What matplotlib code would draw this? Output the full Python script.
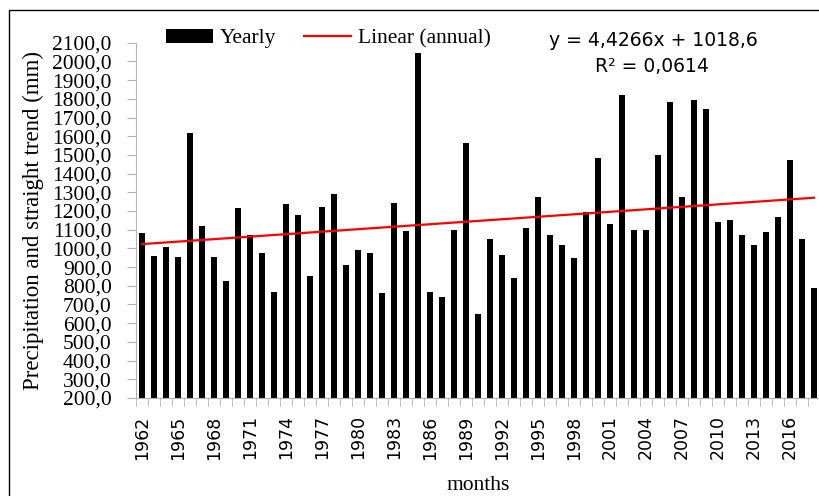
import matplotlib
matplotlib.use("Agg")
import matplotlib.pyplot as plt
import numpy as np
from matplotlib.patches import Patch, Rectangle
from matplotlib.lines import Line2D
from matplotlib.ticker import FixedLocator, FuncFormatter

# datos
years = list(range(1962, 2019))
yearly = [1080, 962, 1010, 955, 1617, 1120, 956, 823, 1215, 1072,
          978, 768, 1235, 1177, 855, 1220, 1290, 910, 992, 978,
          763, 1245, 1092, 2047, 768, 738, 1097, 1562, 650, 1048,
          966, 843, 1110, 1277, 1071, 1016, 948, 1192, 1482, 1133,
          1820, 1097, 1097, 1500, 1785, 1277, 1792, 1747, 1140, 1152,
          1072, 1016, 1090, 1170, 1475, 1048, 788]
slope = 4.4266
intercept = 1018.6
r2 = 0.0614
y_ticks = list(range(200, 2101, 100))

serif = ["Liberation Serif", "DejaVu Serif"]
gray = "#b4b4b4"

fig = plt.figure(figsize=(8.2, 4.96), dpi=100)
ax = fig.add_axes([0.1659, 0.1976, 0.834, 0.7163])

x = np.arange(len(years))
ax.bar(x, yearly, width=0.5, color="black")

# tendencia lineal (x = 1..n)
trend = slope * (x + 1) + intercept
ax.plot(x, trend, color="red", lw=1.6)

ax.set_xlim(-0.5, len(years) - 0.5)
ax.set_ylim(200, 2100)

ax.set_yticks(y_ticks)
ax.yaxis.set_major_formatter(FuncFormatter(lambda v, p: f"{v:.1f}".replace(".", ",")))
for lab in ax.get_yticklabels():
    lab.set_family(serif)
ax.tick_params(axis="y", length=6.5, color=gray, labelsize=15.5, pad=11)

ax.set_xticks(x[::3])
ax.set_xticklabels([str(y) for y in years[::3]], rotation=90)
ax.xaxis.set_minor_locator(FixedLocator(np.arange(-0.5, len(years), 1)))
ax.tick_params(axis="x", which="major", length=0, labelsize=12.5, pad=12.5)
ax.tick_params(axis="x", which="minor", length=6, color=gray)

for s in ["top", "right"]:
    ax.spines[s].set_visible(False)
for s in ["left", "bottom"]:
    ax.spines[s].set_color(gray)

ax.set_ylabel("Precipitation and straight trend (mm)", family=serif, fontsize=16.5, labelpad=6)
ax.set_xlabel("months", family=serif, fontsize=15.5, labelpad=12)

handles = [Patch(facecolor="black"), Line2D([0], [0], color="red", lw=1.6)]
fig.legend(handles, ["Yearly", "Linear (annual)"], ncol=2, frameon=False,
           loc="center", bbox_to_anchor=(0.40, 0.922),
           prop={"family": serif, "size": 15.5},
           handlelength=2.2, handleheight=0.6, handletextpad=0.3, columnspacing=1.3)

fig.text(0.797, 0.919, f"y = {slope:.4f}x + {intercept:.1f}".replace(".", ","),
         ha="center", va="center", fontsize=13.5)
fig.text(0.795, 0.866, f"R² = {r2:.4f}".replace(".", ","),
         ha="center", va="center", fontsize=13.5)

# marco de la figura
fig.add_artist(Rectangle((0.011, -0.05), 1.1, 1.03, transform=fig.transFigure,
                         fill=False, ec="black", lw=1))

fig.savefig("out.png", dpi=100)
